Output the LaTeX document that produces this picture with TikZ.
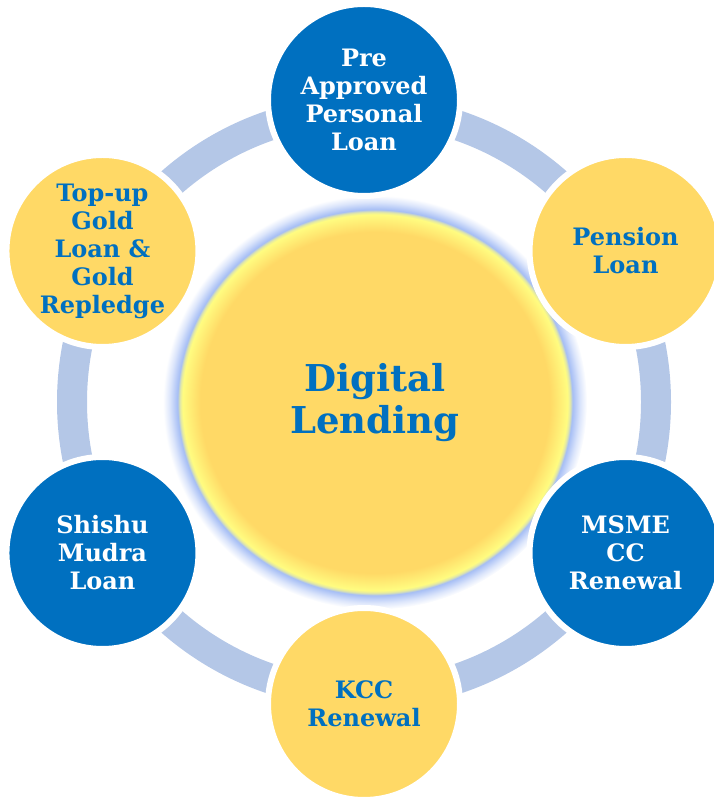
\documentclass[tikz,border=0pt]{standalone}
\usepackage{fontspec}
\setmainfont{DejaVu Serif}
\usetikzlibrary{positioning,shapes.geometric}
\definecolor{ink}{HTML}{0070C0}
\definecolor{gold}{HTML}{FFD966}
\definecolor{band}{HTML}{B4C7E7}
\definecolor{rim}{HTML}{FFFC80}
\definecolor{halo}{HTML}{A6BEF5}
\pgfdeclareradialshading{hubglow}{\pgfpoint{0bp}{0bp}}{color(0bp)=(gold); color(20.6bp)=(gold); color(22.7bp)=(rim); color(23.0bp)=(rim!70!halo); color(23.3bp)=(halo); color(24.2bp)=(halo!40!white); color(25bp)=(white); color(50bp)=(white)}

\begin{document}
\begin{tikzpicture}[x=1pt,y=1pt,
  dot/.style={circle,draw=white,line width=6pt,minimum size=192pt,inner sep=0pt,align=center,font=\fontsize{24}{28}\selectfont\bfseries},
  bluedot/.style={dot,fill=ink,text=white},
  golddot/.style={dot,fill=gold,text=ink},
  hub/.style={ellipse,shading=hubglow,minimum width=424pt,minimum height=414pt,inner sep=0pt,align=center,text=ink,font=\fontsize{37}{42}\selectfont\bfseries},
  band/.style={draw=band,line width=30pt}]
\useasboundingbox (0,0) rectangle (713,797);
\coordinate (ringc) at (364,395);
\draw[band] (ringc) circle[radius=292];
\node[hub] (lend) at (375,394.5) {Digital\\Lending};
\node[bluedot] (pre) at ([shift={(90:302)}]ringc) {Pre\\Approved\\Personal\\Loan};
\node[golddot] (pen) at ([shift={(30:302)}]ringc) {Pension\\Loan};
\node[bluedot] (msme) at ([shift={(-30:302)}]ringc) {MSME\\CC\\Renewal};
\node[golddot] (kcc) at ([shift={(-90:302)}]ringc) {KCC\\Renewal};
\node[bluedot] (mudra) at ([shift={(-150:302)}]ringc) {Shishu\\Mudra\\Loan};
\node[golddot] (gold) at ([shift={(150:302)}]ringc) {Top-up\\Gold\\Loan \&\\Gold\\Repledge};
\end{tikzpicture}
\end{document}
